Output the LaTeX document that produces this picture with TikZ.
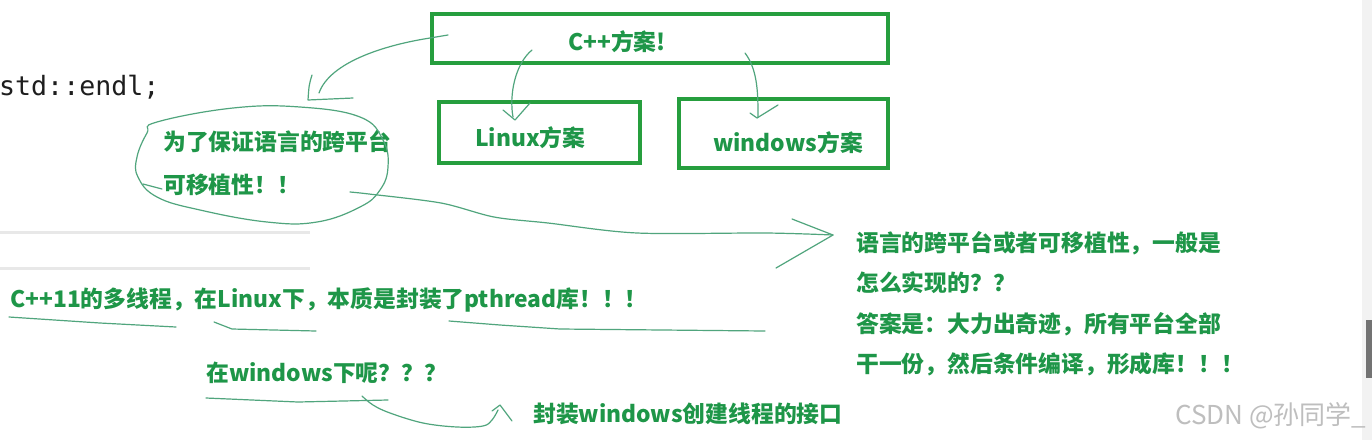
\documentclass[tikz,border=0pt]{standalone}
\usepackage{fontspec}
\newfontfamily\cjk{Noto Sans CJK SC}
\newfontfamily\monof{DejaVu Sans Mono}
\definecolor{boxgreen}{RGB}{38,158,62}
\definecolor{txtgreen}{RGB}{30,150,72}
\definecolor{inkgreen}{RGB}{80,165,125}
\definecolor{rulegray}{RGB}{232,232,232}
\definecolor{wmgray}{RGB}{190,190,190}
\definecolor{codeblack}{RGB}{30,30,30}
\begin{document}
\begin{tikzpicture}[x=1pt,y=-1pt,
  box/.style={draw=boxgreen,line width=4pt,inner sep=0pt,outer sep=0pt},
  txt/.style={text=txtgreen,font=\cjk\bfseries\fontsize{22.8}{28}\selectfont,inner sep=0pt,anchor=west},
  ink/.style={draw=inkgreen,line width=1.2pt,line cap=round,line join=round},
  rule/.style={draw=rulegray,line width=3pt}]
\fill[white] (0,0) rectangle (1372,440);
\useasboundingbox (0,0) rectangle (1372,440);

% scrollbar
\fill[black!5] (1362,0) rectangle (1372,440);
\fill[black!55] (1366,320) rectangle (1372,378);

% gray rules
\coordinate (g1a) at (0,232); \coordinate (g1b) at (310,232);
\coordinate (g2a) at (0,268); \coordinate (g2b) at (310,268);
\draw[rule] (g1a) -- (g1b);
\draw[rule] (g2a) -- (g2b);

% code
\node[anchor=west,inner sep=0pt,text=codeblack,font=\monof\fontsize{26.6}{30}\selectfont] (code) at (-1,87) {std::endl;};

% boxes
\node[box,minimum width=456pt,minimum height=49pt] (cppbox) at (660,38.5) {};
\node[box,minimum width=201pt,minimum height=61pt] (linbox) at (539.5,132.5) {};
\node[box,minimum width=209pt,minimum height=69pt] (winbox) at (783.5,133.5) {};
\node[txt] (cpp) at (568,42) {C++方案!};
\node[txt] (lin) at (475,138) {Linux方案};
\node[txt] (win) at (713,143) {windows方案};

% ellipse text
\node[txt] (e1) at (163,142) {为了保证语言的跨平台};
\node[txt] (e2) at (163,185) {可移植性！！};

% right text
\node[txt] (r1) at (856,243) {语言的跨平台或者可移植性，一般是};
\node[txt] (r2) at (856,283) {怎么实现的？？};
\node[txt] (r3) at (856,324) {答案是：大力出奇迹，所有平台全部};
\node[txt] (r4) at (856,364) {干一份，然后条件编译，形成库！！！};

% lower texts
\node[txt] (t1) at (10,300) {C++11的多线程，在Linux下，本质是封装了pthread库！！！};
\node[txt] (t2) at (206,373) {在windows下呢？？？};
\node[txt] (t3) at (533,414) {封装windows创建线程的接口};

% watermark
\node[anchor=west,inner sep=0pt,text=wmgray,font=\cjk\fontsize{26}{30}\selectfont] (wm) at (1175,416) {CSDN @孙同学\_};

% ellipse
\draw[ink] plot[smooth cycle,tension=0.7] coordinates {(157,122) (233,108) (300,107) (360,117) (383,140) (388,167) (380,190) (360,207) (317,222) (267,222) (200,210) (157,197) (138,177) (137,157) (147,133)};
\coordinate (tk1) at (143,184); \coordinate (tk2) at (162,189);
\draw[ink] (tk1) -- (tk2);

% arrow from C++ box to ellipse
\coordinate (ua) at (448,35); \coordinate (ub) at (430,38); \coordinate (uc) at (319,93);
\coordinate (uh1) at (312,75); \coordinate (utip) at (308,100); \coordinate (uh2) at (353,98);
\draw[ink] (ua) -- (ub) .. controls (385,45) and (330,62) .. (uc);
\draw[ink] (uh1) .. controls (309,85) .. (utip) -- (uh2);

% arrow to Linux
\coordinate (la) at (532,50); \coordinate (lb) at (513,117);
\coordinate (lh1) at (503,110); \coordinate (ltip) at (515,120); \coordinate (lh2) at (530,103);
\draw[ink] (la) .. controls (515,64) and (509,95) .. (lb);
\draw[ink] (lh1) -- (ltip) -- (lh2);

% arrow to windows
\coordinate (wa) at (745,53); \coordinate (wb) at (758,117);
\coordinate (wh1) at (750,113); \coordinate (wtip) at (757,118); \coordinate (wh2) at (778,105);
\draw[ink] (wa) .. controls (758,70) and (758,95) .. (wb);
\draw[ink] (wh1) -- (wtip) -- (wh2);

% long arrow to the right text
\coordinate (ra) at (350,192); \coordinate (rtip) at (833,235);
\coordinate (rh1) at (792,219); \coordinate (rh2) at (776,268);
\draw[ink] plot[smooth,tension=0.5] coordinates {(ra) (369,194) (441,203) (494,217) (548,223) (637,233) (766,233) (rtip)};
\draw[ink] (rh1) -- (rtip) -- (rh2);

% underlines
\draw[ink] (9,317) -- (100,323) -- (176,327);
\draw[ink] (214,322) -- (232,329) -- (316,331);
\draw[ink] (449,321) -- (500,325) -- (560,329) -- (765,331);
\draw[ink] (206,398) -- (298,402) -- (388,400);

% arrow to the windows interface text
\coordinate (da) at (362,396); \coordinate (db) at (498,410);
\coordinate (dh1) at (492,411); \coordinate (dtip) at (500,405); \coordinate (dh2) at (512,421);
\draw[ink] plot[smooth,tension=0.6] coordinates {(da) (373,405) (390,413) (423,423) (457,427) (483,426) (492,420) (db)};
\draw[ink] (dh1) -- (dtip) -- (dh2);
\end{tikzpicture}
\end{document}
